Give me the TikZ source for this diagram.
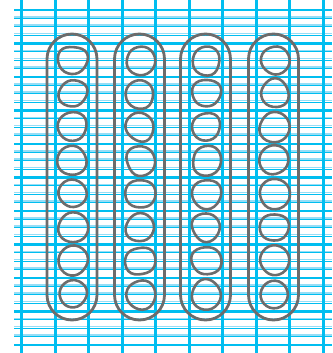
\documentclass[tikz,border=0pt]{standalone}
\usepackage{xcolor}
\usepackage{tikz}

\definecolor{gridblue}{RGB}{0,190,240}
\definecolor{gridlight}{RGB}{150,222,246}
\definecolor{pencil}{RGB}{108,108,108}

\tikzset{
  majorline/.style={draw=gridblue, line width=2.6pt},
  minorline/.style={draw=gridblue, line width=1.2pt},
  shadeline/.style={draw=gridlight, line width=1.5pt},
  pill/.style={draw=pencil, line width=2.8pt, rounded corners=25pt},
  ring/.style={draw=pencil, line width=2.6pt, line join=round}
}

% wobbly hand drawn circle at (#1,#2)
\newcommand{\wobblering}[2]{%
  \pgfmathsetmacro\ra{14.3+3*(rnd-0.5)}
  \pgfmathsetmacro\rb{14.3+3*(rnd-0.5)}
  \pgfmathsetmacro\rc{14.3+3*(rnd-0.5)}
  \pgfmathsetmacro\rd{14.3+3*(rnd-0.5)}
  \pgfmathsetmacro\re{14.3+3*(rnd-0.5)}
  \pgfmathsetmacro\rf{14.3+3*(rnd-0.5)}
  \pgfmathsetmacro\tw{40*rnd}
  \draw[ring] plot[smooth cycle, tension=0.75] coordinates {
    ({#1+\ra*cos(\tw)},{#2+\ra*sin(\tw)})
    ({#1+\rb*cos(\tw+60)},{#2+\rb*sin(\tw+60)})
    ({#1+\rc*cos(\tw+120)},{#2+\rc*sin(\tw+120)})
    ({#1+\rd*cos(\tw+180)},{#2+\rd*sin(\tw+180)})
    ({#1+\re*cos(\tw+240)},{#2+\re*sin(\tw+240)})
    ({#1+\rf*cos(\tw+300)},{#2+\rf*sin(\tw+300)})};
}

\begin{document}
\begin{tikzpicture}[x=1pt, y=-1pt]
  \useasboundingbox (0,0) rectangle (332,353);
  \pgfmathsetseed{12}

  % Grid: horizontal lines
  \foreach \k in {0,...,9} {
    \foreach \j in {1,2,3} {
      \draw[shadeline] (14,{10+33.5*\k+8.375*\j-1.6}) -- (332,{10+33.5*\k+8.375*\j-1.6});
      \draw[minorline] (14,{10+33.5*\k+8.375*\j}) -- (332,{10+33.5*\k+8.375*\j});
    }
  }
  \foreach \k in {0,...,10}
    \draw[majorline] (14,{10+33.5*\k}) -- (332,{10+33.5*\k});

  % Grid: vertical lines
  \foreach \k in {0,...,9}
    \draw[majorline] ({21.7+33.5*\k},0) -- ({21.7+33.5*\k},353);

  % Pills with rings
  \foreach \cx in {72,139.5,205.5,273.5} {
    \draw[pill] ({\cx-25},34) rectangle ({\cx+25},320);
    \foreach \row in {0,...,7} {
      \wobblering{\cx+0.8}{60+33.5*\row}
    }
  }
\end{tikzpicture}
\end{document}
